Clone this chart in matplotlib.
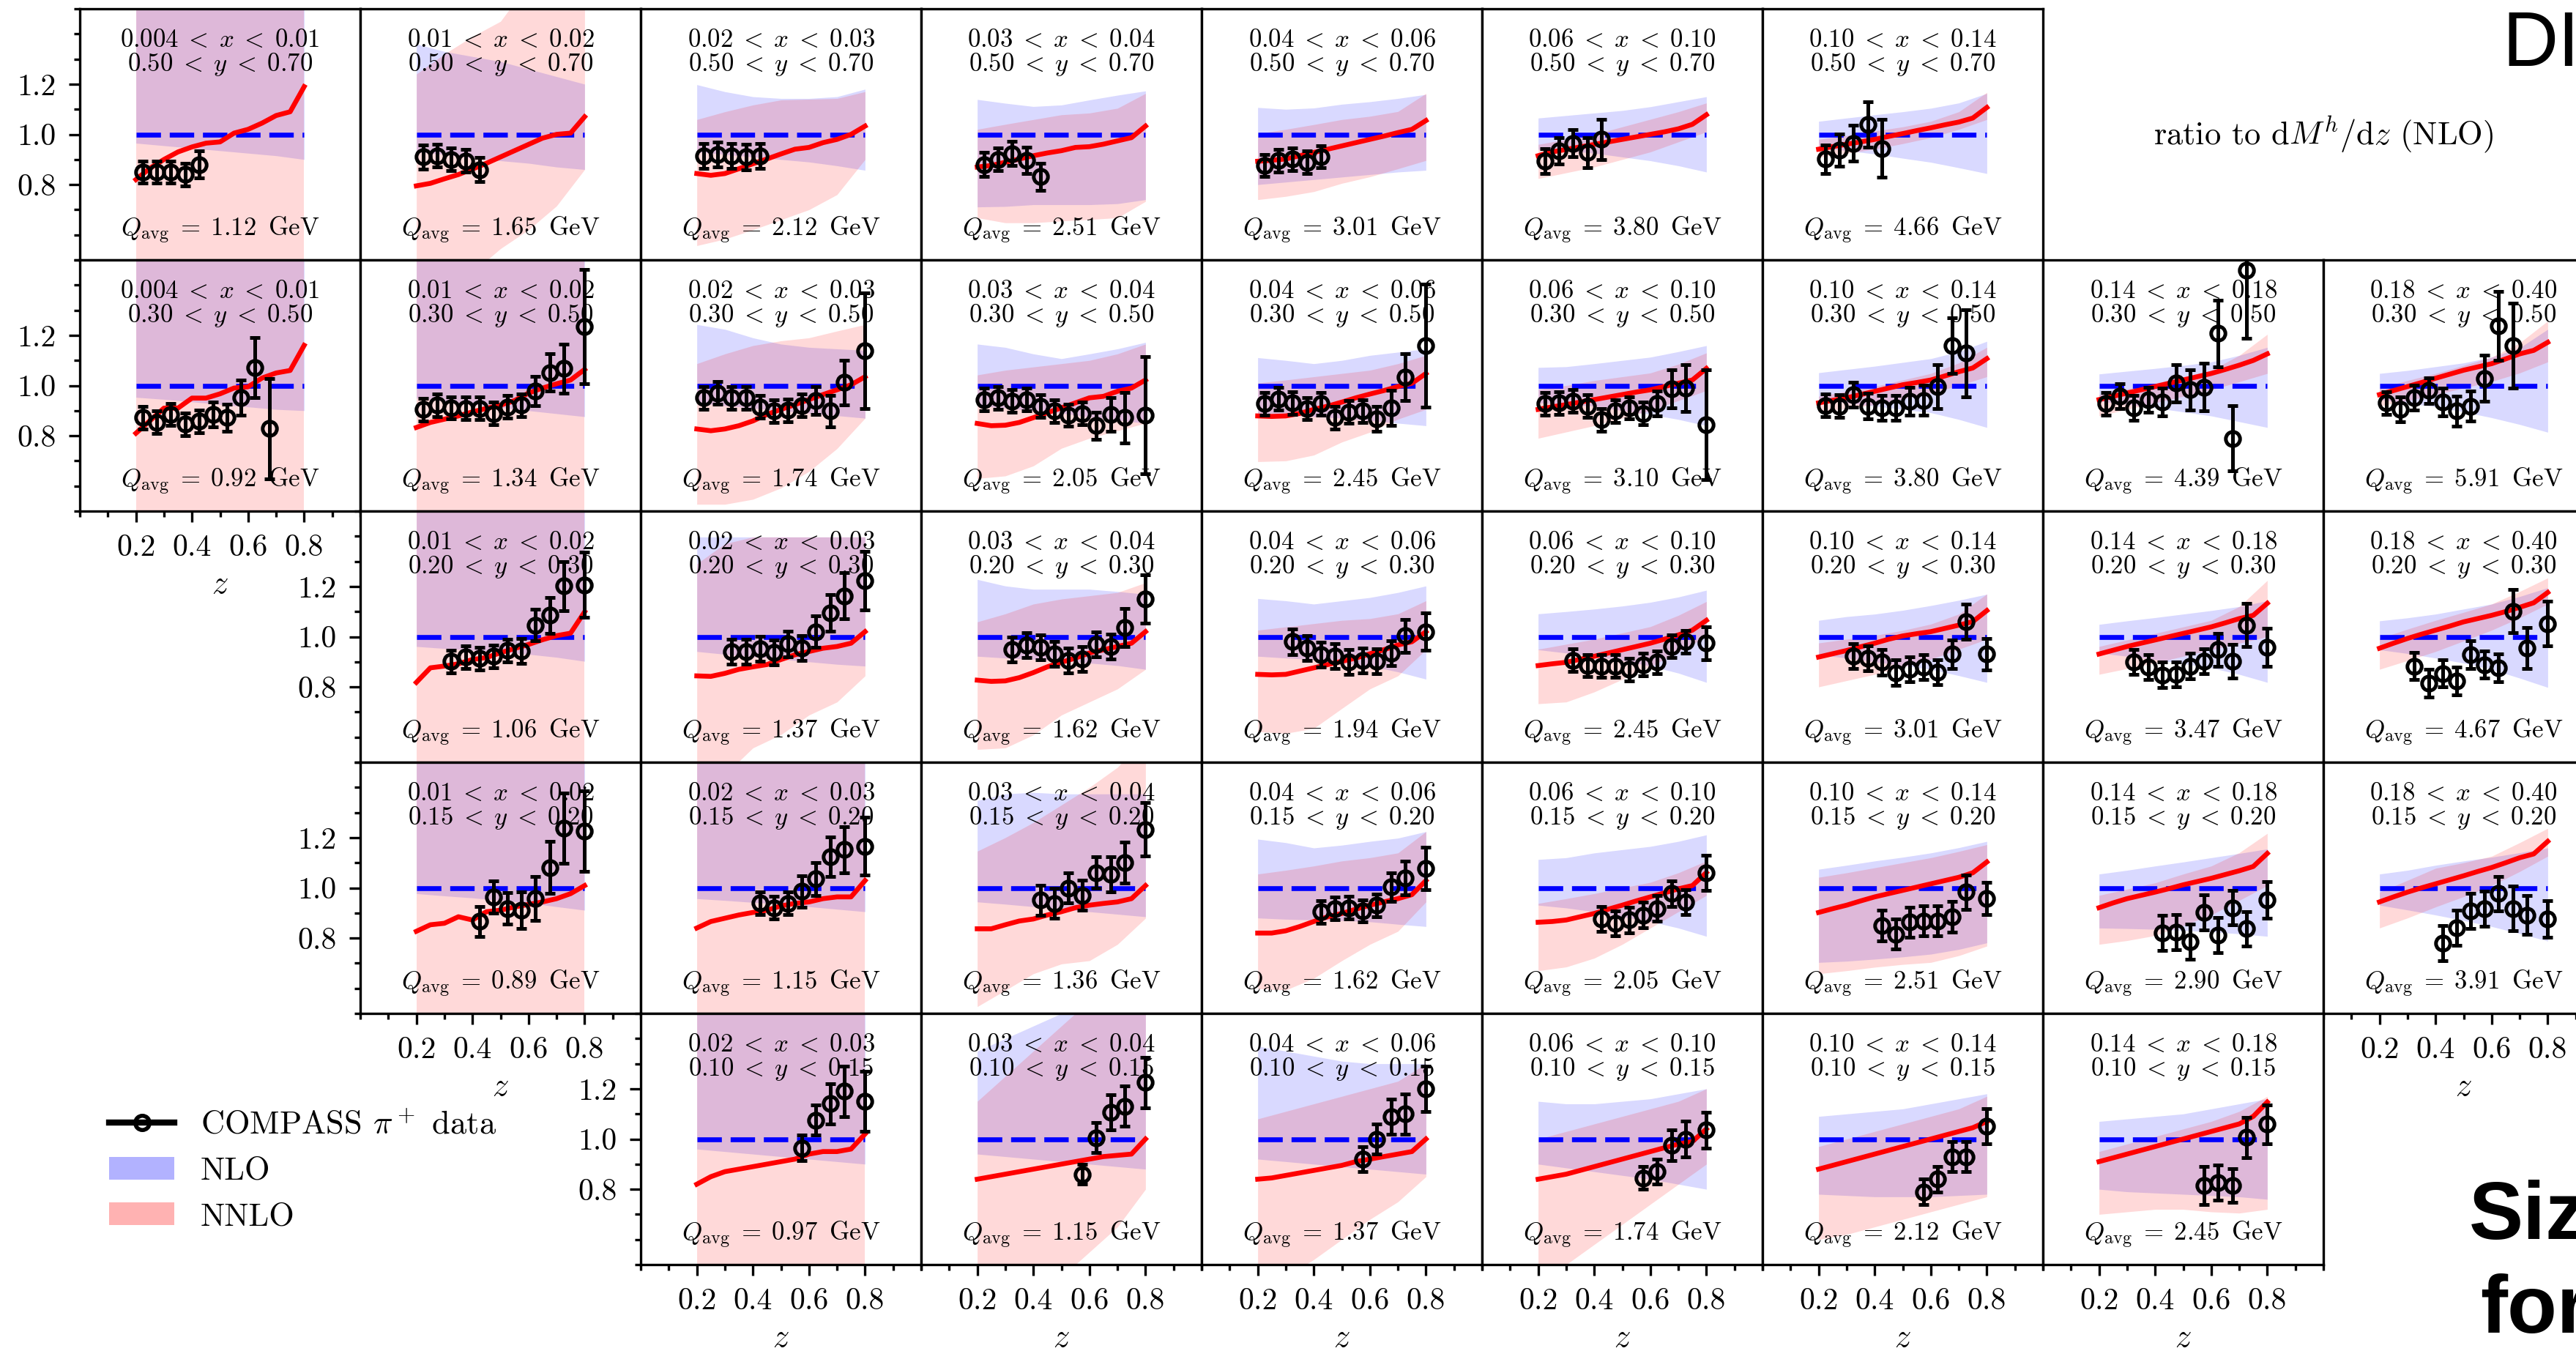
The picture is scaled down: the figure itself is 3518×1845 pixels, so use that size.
import matplotlib
matplotlib.use("Agg")
import matplotlib.pyplot as plt
from matplotlib.lines import Line2D
from matplotlib.patches import Patch
from matplotlib.ticker import MultipleLocator

plt.rcParams['font.family'] = 'serif'
plt.rcParams['font.serif'] = ['cmr10']
plt.rcParams['mathtext.fontset'] = 'cm'
plt.rcParams['axes.formatter.use_mathtext'] = True

# bin edges used in the panel labels
x_edges = ['0.004', '0.01', '0.02', '0.03', '0.04', '0.06', '0.10', '0.14', '0.18', '0.40']
y_edges = [('0.50', '0.70'), ('0.30', '0.50'), ('0.20', '0.30'), ('0.15', '0.20'), ('0.10', '0.15')]

# z grids
z_bins = [0.225, 0.275, 0.325, 0.375, 0.425, 0.475, 0.525, 0.575, 0.625, 0.675, 0.725, 0.80]
z_line = [0.2, 0.25, 0.3, 0.35, 0.4, 0.45, 0.5, 0.55, 0.6, 0.65, 0.7, 0.75, 0.8]
z_band = [0.2, 0.3, 0.4, 0.5, 0.6, 0.7, 0.8]
nlo_ratio = [1.0, 1.0, 1.0, 1.0, 1.0, 1.0, 1.0]

# panel positions (row, col)
panel_row = [0, 0, 0, 0, 0, 0, 0,
             1, 1, 1, 1, 1, 1, 1, 1, 1,
             2, 2, 2, 2, 2, 2, 2, 2,
             3, 3, 3, 3, 3, 3, 3, 3,
             4, 4, 4, 4, 4, 4]
panel_col = [0, 1, 2, 3, 4, 5, 6,
             0, 1, 2, 3, 4, 5, 6, 7, 8,
             1, 2, 3, 4, 5, 6, 7, 8,
             1, 2, 3, 4, 5, 6, 7, 8,
             2, 3, 4, 5, 6, 7]
q_avg = ['1.12', '1.65', '2.12', '2.51', '3.01', '3.80', '4.66',
         '0.92', '1.34', '1.74', '2.05', '2.45', '3.10', '3.80', '4.39', '5.91',
         '1.06', '1.37', '1.62', '1.94', '2.45', '3.01', '3.47', '4.67',
         '0.89', '1.15', '1.36', '1.62', '2.05', '2.51', '2.90', '3.91',
         '0.97', '1.15', '1.37', '1.74', '2.12', '2.45']
first_bin = [0] * 7 + [0] * 9 + [2] * 8 + [4] * 8 + [7] * 6

# COMPASS pi+ data, ratio to NLO
data_y = [
    [0.85, 0.85, 0.85, 0.84, 0.88],
    [0.91, 0.915, 0.90, 0.895, 0.86],
    [0.915, 0.92, 0.915, 0.91, 0.915],
    [0.88, 0.90, 0.924, 0.896, 0.831],
    [0.876, 0.896, 0.902, 0.889, 0.911],
    [0.893, 0.935, 0.965, 0.928, 0.98],
    [0.902, 0.938, 0.965, 1.039, 0.944],
    [0.872, 0.853, 0.885, 0.846, 0.858, 0.885, 0.872, 0.951, 1.072, 0.829],
    [0.905, 0.922, 0.911, 0.909, 0.909, 0.888, 0.915, 0.922, 0.979, 1.052, 1.068, 1.234],
    [0.951, 0.97, 0.951, 0.951, 0.915, 0.898, 0.902, 0.921, 0.941, 0.898, 1.012, 1.139],
    [0.944, 0.951, 0.938, 0.944, 0.918, 0.898, 0.882, 0.889, 0.84, 0.885, 0.872, 0.882],
    [0.928, 0.947, 0.931, 0.908, 0.928, 0.872, 0.895, 0.898, 0.868, 0.911, 1.033, 1.159],
    [0.928, 0.931, 0.938, 0.918, 0.863, 0.898, 0.911, 0.889, 0.928, 0.987, 0.99, 0.844],
    [0.921, 0.918, 0.964, 0.918, 0.911, 0.911, 0.938, 0.941, 0.996, 1.159, 1.129],
    [0.928, 0.957, 0.911, 0.944, 0.934, 1.009, 0.983, 0.993, 1.207, 0.79, 1.458],
    [0.931, 0.905, 0.951, 0.98, 0.934, 0.898, 0.918, 1.029, 1.237, 1.159],
    [0.902, 0.919, 0.913, 0.922, 0.945, 0.944, 1.046, 1.085, 1.202, 1.206],
    [0.941, 0.941, 0.952, 0.938, 0.971, 0.954, 1.02, 1.095, 1.163, 1.224],
    [0.948, 0.967, 0.958, 0.932, 0.906, 0.911, 0.97, 0.961, 1.036, 1.15],
    [0.98, 0.954, 0.928, 0.922, 0.90, 0.906, 0.902, 0.935, 1.003, 1.02],
    [0.906, 0.885, 0.883, 0.883, 0.87, 0.889, 0.898, 0.961, 0.98, 0.974],
    [0.922, 0.913, 0.898, 0.857, 0.87, 0.879, 0.859, 0.931, 1.059, 0.931],
    [0.90, 0.88, 0.848, 0.85, 0.883, 0.902, 0.948, 0.902, 1.046, 0.958],
    [0.883, 0.814, 0.854, 0.824, 0.928, 0.889, 0.876, 1.102, 0.955, 1.052],
    [0.866, 0.964, 0.918, 0.911, 0.957, 1.081, 1.237, 1.227],
    [0.94, 0.921, 0.938, 0.986, 1.035, 1.124, 1.152, 1.165],
    [0.951, 0.938, 0.999, 0.97, 1.061, 1.055, 1.10, 1.233],
    [0.905, 0.918, 0.921, 0.908, 0.931, 1.003, 1.038, 1.078],
    [0.876, 0.859, 0.872, 0.892, 0.918, 0.977, 0.944, 1.061],
    [0.85, 0.816, 0.863, 0.868, 0.868, 0.885, 0.983, 0.957],
    [0.82, 0.824, 0.785, 0.901, 0.811, 0.921, 0.837, 0.951],
    [0.781, 0.84, 0.908, 0.918, 0.977, 0.918, 0.892, 0.876],
    [0.965, 1.075, 1.14, 1.19, 1.15],
    [0.86, 1.005, 1.105, 1.13, 1.225],
    [0.92, 1.0, 1.09, 1.10, 1.2],
    [0.845, 0.87, 0.975, 1.0, 1.035],
    [0.79, 0.84, 0.93, 0.93, 1.05],
    [0.815, 0.826, 0.815, 1.007, 1.059],
]
data_err = [
    [0.045, 0.045, 0.045, 0.045, 0.053],
    [0.048, 0.045, 0.045, 0.045, 0.048],
    [0.05, 0.05, 0.05, 0.05, 0.05],
    [0.049, 0.045, 0.048, 0.052, 0.055],
    [0.045, 0.045, 0.045, 0.045, 0.045],
    [0.049, 0.052, 0.055, 0.06, 0.08],
    [0.057, 0.064, 0.07, 0.09, 0.116],
    [0.045, 0.045, 0.045, 0.045, 0.045, 0.05, 0.055, 0.07, 0.12, 0.2],
    [0.045, 0.045, 0.045, 0.045, 0.045, 0.045, 0.045, 0.045, 0.058, 0.075, 0.098, 0.227],
    [0.045, 0.045, 0.045, 0.045, 0.045, 0.045, 0.045, 0.045, 0.055, 0.062, 0.09, 0.23],
    [0.045, 0.045, 0.045, 0.045, 0.045, 0.045, 0.045, 0.045, 0.055, 0.068, 0.1, 0.232],
    [0.045, 0.045, 0.045, 0.045, 0.045, 0.045, 0.045, 0.045, 0.05, 0.07, 0.094, 0.245],
    [0.045, 0.045, 0.045, 0.045, 0.045, 0.045, 0.045, 0.045, 0.05, 0.075, 0.093, 0.22],
    [0.045, 0.045, 0.05, 0.05, 0.05, 0.05, 0.055, 0.06, 0.087, 0.112, 0.173],
    [0.045, 0.05, 0.05, 0.05, 0.055, 0.074, 0.08, 0.095, 0.133, 0.13, 0.27],
    [0.045, 0.05, 0.05, 0.05, 0.055, 0.06, 0.06, 0.093, 0.137, 0.17],
    [0.045, 0.045, 0.045, 0.045, 0.045, 0.05, 0.062, 0.072, 0.098, 0.13],
    [0.05, 0.05, 0.05, 0.05, 0.05, 0.05, 0.062, 0.072, 0.091, 0.117],
    [0.05, 0.05, 0.05, 0.05, 0.05, 0.05, 0.05, 0.05, 0.076, 0.095],
    [0.05, 0.05, 0.05, 0.05, 0.05, 0.05, 0.05, 0.05, 0.066, 0.074],
    [0.045, 0.045, 0.045, 0.045, 0.045, 0.045, 0.045, 0.045, 0.045, 0.065],
    [0.05, 0.05, 0.05, 0.05, 0.05, 0.05, 0.05, 0.057, 0.07, 0.063],
    [0.05, 0.05, 0.05, 0.05, 0.05, 0.05, 0.065, 0.066, 0.086, 0.076],
    [0.055, 0.055, 0.055, 0.055, 0.055, 0.055, 0.055, 0.085, 0.082, 0.088],
    [0.06, 0.064, 0.062, 0.072, 0.088, 0.104, 0.14, 0.16],
    [0.045, 0.045, 0.045, 0.062, 0.066, 0.08, 0.091, 0.115],
    [0.06, 0.06, 0.06, 0.06, 0.062, 0.07, 0.081, 0.107],
    [0.045, 0.045, 0.045, 0.045, 0.045, 0.056, 0.067, 0.085],
    [0.05, 0.05, 0.05, 0.05, 0.05, 0.05, 0.05, 0.07],
    [0.06, 0.06, 0.06, 0.06, 0.06, 0.06, 0.068, 0.064],
    [0.07, 0.07, 0.07, 0.07, 0.07, 0.068, 0.068, 0.073],
    [0.07, 0.07, 0.07, 0.07, 0.069, 0.088, 0.078, 0.072],
    [0.05, 0.06, 0.08, 0.10, 0.12],
    [0.04, 0.06, 0.07, 0.08, 0.10],
    [0.05, 0.06, 0.07, 0.08, 0.09],
    [0.045, 0.05, 0.06, 0.07, 0.07],
    [0.05, 0.05, 0.06, 0.06, 0.07],
    [0.075, 0.07, 0.068, 0.08, 0.078],
]

# NNLO central value (red line), ratio to NLO
nnlo_mid = [
    [0.82, 0.865, 0.90, 0.93, 0.95, 0.965, 0.97, 1.005, 1.02, 1.045, 1.075, 1.09, 1.19],
    [0.795, 0.805, 0.823, 0.84, 0.862, 0.885, 0.91, 0.935, 0.96, 0.985, 1.0, 1.005, 1.07],
    [0.844, 0.837, 0.844, 0.863, 0.883, 0.902, 0.922, 0.941, 0.948, 0.967, 0.98, 1.0, 1.033],
    [0.87, 0.876, 0.889, 0.902, 0.915, 0.926, 0.935, 0.948, 0.951, 0.961, 0.974, 0.987, 1.033],
    [0.893, 0.897, 0.902, 0.915, 0.928, 0.941, 0.954, 0.967, 0.98, 0.993, 1.007, 1.02, 1.055],
    [0.915, 0.93, 0.94, 0.95, 0.96, 0.97, 0.98, 0.99, 1.0, 1.01, 1.022, 1.04, 1.078],
    [0.941, 0.951, 0.961, 0.97, 0.98, 0.992, 1.003, 1.015, 1.026, 1.038, 1.049, 1.065, 1.107],
    [0.81, 0.86, 0.91, 0.91, 0.95, 0.95, 0.967, 0.99, 0.995, 1.03, 1.05, 1.06, 1.16],
    [0.833, 0.853, 0.866, 0.879, 0.895, 0.909, 0.922, 0.94, 0.97, 0.99, 1.007, 1.022, 1.064],
    [0.827, 0.82, 0.827, 0.84, 0.859, 0.885, 0.905, 0.924, 0.944, 0.964, 0.983, 1.003, 1.035],
    [0.849, 0.84, 0.842, 0.853, 0.872, 0.892, 0.911, 0.931, 0.951, 0.957, 0.977, 0.99, 1.022],
    [0.879, 0.877, 0.879, 0.889, 0.905, 0.918, 0.934, 0.951, 0.966, 0.98, 0.996, 1.009, 1.048],
    [0.905, 0.915, 0.924, 0.934, 0.944, 0.954, 0.964, 0.974, 0.983, 0.996, 1.009, 1.022, 1.068],
    [0.931, 0.941, 0.951, 0.964, 0.977, 0.99, 1.003, 1.012, 1.022, 1.038, 1.055, 1.07, 1.107],
    [0.944, 0.957, 0.97, 0.983, 0.996, 1.009, 1.022, 1.035, 1.048, 1.064, 1.081, 1.1, 1.126],
    [0.964, 0.98, 0.996, 1.012, 1.029, 1.045, 1.061, 1.074, 1.087, 1.106, 1.126, 1.14, 1.172],
    [0.818, 0.876, 0.883, 0.892, 0.909, 0.917, 0.936, 0.953, 0.969, 0.988, 1.004, 1.014, 1.099],
    [0.844, 0.842, 0.854, 0.87, 0.88, 0.889, 0.909, 0.928, 0.941, 0.954, 0.961, 0.974, 1.02],
    [0.827, 0.822, 0.824, 0.837, 0.857, 0.88, 0.898, 0.915, 0.935, 0.948, 0.961, 0.974, 1.02],
    [0.85, 0.848, 0.85, 0.863, 0.876, 0.889, 0.902, 0.915, 0.932, 0.948, 0.967, 0.98, 1.02],
    [0.885, 0.892, 0.898, 0.91, 0.922, 0.935, 0.948, 0.961, 0.974, 0.99, 1.007, 1.026, 1.065],
    [0.919, 0.932, 0.945, 0.96, 0.974, 0.99, 1.003, 1.012, 1.02, 1.033, 1.046, 1.06, 1.104],
    [0.931, 0.946, 0.961, 0.974, 0.987, 1.0, 1.013, 1.026, 1.039, 1.055, 1.072, 1.085, 1.133],
    [0.954, 0.974, 0.993, 1.01, 1.026, 1.042, 1.059, 1.072, 1.085, 1.10, 1.117, 1.135, 1.176],
    [0.827, 0.853, 0.859, 0.885, 0.872, 0.905, 0.911, 0.924, 0.934, 0.944, 0.957, 0.977, 1.009],
    [0.84, 0.866, 0.879, 0.892, 0.902, 0.911, 0.928, 0.938, 0.944, 0.957, 0.964, 0.964, 1.029],
    [0.837, 0.837, 0.853, 0.868, 0.876, 0.892, 0.905, 0.921, 0.931, 0.938, 0.944, 0.957, 1.009],
    [0.82, 0.82, 0.829, 0.846, 0.866, 0.885, 0.898, 0.915, 0.931, 0.944, 0.957, 0.973, 1.029],
    [0.863, 0.866, 0.872, 0.885, 0.898, 0.915, 0.931, 0.948, 0.964, 0.98, 0.996, 1.009, 1.061],
    [0.902, 0.917, 0.931, 0.948, 0.964, 0.977, 0.99, 1.003, 1.016, 1.029, 1.042, 1.06, 1.103],
    [0.921, 0.94, 0.957, 0.97, 0.983, 0.997, 1.012, 1.025, 1.038, 1.053, 1.068, 1.085, 1.137],
    [0.944, 0.964, 0.983, 1.0, 1.016, 1.032, 1.048, 1.065, 1.081, 1.10, 1.12, 1.135, 1.185],
    [0.82, 0.85, 0.87, 0.88, 0.89, 0.90, 0.91, 0.92, 0.94, 0.95, 0.95, 0.96, 1.02],
    [0.84, 0.85, 0.86, 0.87, 0.88, 0.89, 0.90, 0.91, 0.92, 0.93, 0.935, 0.94, 1.0],
    [0.84, 0.845, 0.855, 0.865, 0.875, 0.885, 0.895, 0.91, 0.92, 0.93, 0.94, 0.95, 1.0],
    [0.84, 0.85, 0.86, 0.875, 0.89, 0.905, 0.92, 0.935, 0.95, 0.965, 0.98, 0.99, 1.04],
    [0.88, 0.895, 0.91, 0.925, 0.94, 0.955, 0.97, 0.985, 1.0, 1.015, 1.03, 1.045, 1.07],
    [0.91, 0.925, 0.94, 0.955, 0.97, 0.985, 1.0, 1.015, 1.03, 1.045, 1.06, 1.09, 1.147],
]

# uncertainty bands
nlo_lo = [
    [0.965, 0.955, 0.945, 0.935, 0.925, 0.915, 0.90],
    [0.93, 0.92, 0.905, 0.895, 0.885, 0.87, 0.86],
    [0.93, 0.92, 0.91, 0.90, 0.89, 0.875, 0.857],
    [0.711, 0.713, 0.72, 0.72, 0.72, 0.724, 0.74],
    [0.80, 0.81, 0.82, 0.83, 0.84, 0.85, 0.857],
    [0.94, 0.935, 0.925, 0.91, 0.895, 0.875, 0.85],
    [0.948, 0.935, 0.922, 0.905, 0.889, 0.867, 0.844],
    [0.953, 0.945, 0.935, 0.925, 0.915, 0.905, 0.90],
    [0.95, 0.938, 0.925, 0.913, 0.90, 0.888, 0.876],
    [0.93, 0.92, 0.91, 0.90, 0.89, 0.88, 0.87],
    [0.92, 0.91, 0.90, 0.89, 0.875, 0.862, 0.85],
    [0.89, 0.883, 0.876, 0.87, 0.86, 0.85, 0.84],
    [0.931, 0.925, 0.918, 0.90, 0.885, 0.865, 0.84],
    [0.944, 0.931, 0.918, 0.905, 0.892, 0.865, 0.833],
    [0.938, 0.925, 0.911, 0.895, 0.879, 0.856, 0.833],
    [0.944, 0.93, 0.915, 0.895, 0.872, 0.845, 0.814],
    [0.961, 0.953, 0.946, 0.939, 0.93, 0.918, 0.902],
    [0.941, 0.93, 0.92, 0.91, 0.90, 0.89, 0.883],
    [0.922, 0.915, 0.91, 0.905, 0.895, 0.885, 0.87],
    [0.922, 0.915, 0.909, 0.895, 0.883, 0.86, 0.831],
    [0.948, 0.935, 0.922, 0.905, 0.883, 0.855, 0.818],
    [0.928, 0.915, 0.90, 0.885, 0.87, 0.845, 0.818],
    [0.935, 0.922, 0.909, 0.892, 0.876, 0.85, 0.818],
    [0.948, 0.933, 0.915, 0.895, 0.87, 0.835, 0.798],
    [0.977, 0.968, 0.96, 0.95, 0.94, 0.925, 0.911],
    [0.957, 0.95, 0.942, 0.935, 0.925, 0.915, 0.905],
    [0.944, 0.935, 0.925, 0.915, 0.905, 0.895, 0.885],
    [0.88, 0.875, 0.872, 0.87, 0.865, 0.855, 0.846],
    [0.931, 0.92, 0.905, 0.885, 0.866, 0.84, 0.807],
    [0.703, 0.708, 0.716, 0.725, 0.736, 0.755, 0.781],
    [0.84, 0.838, 0.835, 0.83, 0.825, 0.817, 0.807],
    [0.931, 0.912, 0.892, 0.87, 0.846, 0.818, 0.788],
    [0.96, 0.95, 0.94, 0.93, 0.92, 0.91, 0.90],
    [0.94, 0.93, 0.92, 0.91, 0.90, 0.89, 0.88],
    [0.92, 0.91, 0.90, 0.89, 0.88, 0.87, 0.86],
    [0.90, 0.885, 0.87, 0.855, 0.84, 0.82, 0.80],
    [0.78, 0.775, 0.77, 0.77, 0.77, 0.775, 0.78],
    [0.80, 0.79, 0.785, 0.78, 0.775, 0.77, 0.76],
]
nlo_hi = [
    [1.6, 1.6, 1.6, 1.6, 1.6, 1.6, 1.6],
    [1.36, 1.33, 1.31, 1.29, 1.26, 1.23, 1.20],
    [1.198, 1.17, 1.15, 1.143, 1.143, 1.15, 1.18],
    [1.139, 1.124, 1.111, 1.117, 1.137, 1.156, 1.173],
    [1.107, 1.10, 1.105, 1.12, 1.13, 1.143, 1.159],
    [1.065, 1.075, 1.085, 1.095, 1.11, 1.13, 1.15],
    [1.052, 1.065, 1.078, 1.09, 1.104, 1.125, 1.163],
    [1.6, 1.6, 1.6, 1.6, 1.6, 1.6, 1.6],
    [1.6, 1.6, 1.6, 1.6, 1.6, 1.6, 1.6],
    [1.243, 1.224, 1.19, 1.165, 1.152, 1.146, 1.14],
    [1.165, 1.152, 1.126, 1.107, 1.126, 1.146, 1.172],
    [1.111, 1.10, 1.087, 1.10, 1.12, 1.133, 1.146],
    [1.072, 1.075, 1.087, 1.10, 1.113, 1.135, 1.159],
    [1.051, 1.064, 1.077, 1.092, 1.107, 1.135, 1.176],
    [1.046, 1.057, 1.068, 1.08, 1.094, 1.12, 1.152],
    [1.048, 1.06, 1.075, 1.09, 1.113, 1.15, 1.224],
    [1.6, 1.6, 1.6, 1.6, 1.6, 1.6, 1.6],
    [1.397, 1.397, 1.397, 1.397, 1.397, 1.397, 1.397],
    [1.228, 1.202, 1.189, 1.189, 1.189, 1.18, 1.169],
    [1.152, 1.143, 1.13, 1.143, 1.156, 1.176, 1.202],
    [1.091, 1.10, 1.11, 1.122, 1.137, 1.158, 1.185],
    [1.065, 1.08, 1.09, 1.105, 1.124, 1.145, 1.169],
    [1.049, 1.063, 1.076, 1.09, 1.104, 1.12, 1.143],
    [1.063, 1.075, 1.09, 1.11, 1.13, 1.16, 1.195],
    [1.6, 1.6, 1.6, 1.6, 1.6, 1.6, 1.6],
    [1.6, 1.6, 1.6, 1.6, 1.6, 1.6, 1.6],
    [1.348, 1.374, 1.38, 1.374, 1.374, 1.374, 1.374],
    [1.194, 1.18, 1.159, 1.17, 1.185, 1.198, 1.224],
    [1.113, 1.12, 1.139, 1.152, 1.165, 1.185, 1.211],
    [1.074, 1.09, 1.107, 1.122, 1.139, 1.16, 1.185],
    [1.055, 1.07, 1.087, 1.103, 1.12, 1.137, 1.155],
    [1.055, 1.07, 1.09, 1.107, 1.122, 1.14, 1.159],
    [1.6, 1.6, 1.6, 1.6, 1.6, 1.6, 1.6],
    [1.35, 1.40, 1.45, 1.50, 1.50, 1.50, 1.50],
    [1.37, 1.35, 1.33, 1.31, 1.30, 1.30, 1.30],
    [1.15, 1.14, 1.14, 1.15, 1.16, 1.18, 1.20],
    [1.09, 1.10, 1.11, 1.12, 1.14, 1.16, 1.18],
    [1.07, 1.08, 1.09, 1.10, 1.12, 1.14, 1.16],
]
nnlo_lo = [
    [0.4, 0.4, 0.4, 0.4, 0.4, 0.4, 0.4],
    [0.4, 0.4, 0.45, 0.545, 0.62, 0.715, 0.86],
    [0.557, 0.583, 0.62, 0.66, 0.70, 0.76, 0.90],
    [0.668, 0.648, 0.648, 0.655, 0.661, 0.668, 0.733],
    [0.74, 0.753, 0.772, 0.805, 0.831, 0.863, 0.896],
    [0.824, 0.847, 0.87, 0.90, 0.93, 0.97, 1.01],
    [0.909, 0.925, 0.941, 0.963, 0.987, 1.02, 1.059],
    [0.4, 0.4, 0.4, 0.4, 0.4, 0.4, 0.4],
    [0.4, 0.4, 0.4, 0.4, 0.4, 0.4, 0.4],
    [0.527, 0.527, 0.547, 0.592, 0.658, 0.749, 0.87],
    [0.63, 0.64, 0.68, 0.75, 0.79, 0.82, 0.85],
    [0.697, 0.70, 0.723, 0.775, 0.814, 0.866, 0.905],
    [0.79, 0.815, 0.84, 0.87, 0.90, 0.94, 0.98],
    [0.892, 0.908, 0.924, 0.947, 0.97, 1.0, 1.035],
    [0.879, 0.905, 0.931, 0.957, 0.983, 1.015, 1.048],
    [0.918, 0.94, 0.964, 0.99, 1.016, 1.05, 1.094],
    [0.4, 0.4, 0.4, 0.4, 0.4, 0.4, 0.4],
    [0.4, 0.45, 0.557, 0.61, 0.688, 0.74, 0.844],
    [0.551, 0.557, 0.609, 0.688, 0.74, 0.792, 0.87],
    [0.622, 0.615, 0.635, 0.714, 0.792, 0.844, 0.948],
    [0.733, 0.74, 0.78, 0.83, 0.88, 0.94, 1.0],
    [0.80, 0.825, 0.85, 0.88, 0.91, 0.95, 0.99],
    [0.85, 0.873, 0.896, 0.922, 0.948, 0.974, 1.0],
    [0.87, 0.905, 0.941, 0.983, 1.026, 1.075, 1.13],
    [0.4, 0.4, 0.4, 0.4, 0.4, 0.4, 0.4],
    [0.4, 0.4, 0.4, 0.4, 0.4, 0.4, 0.4],
    [0.527, 0.592, 0.658, 0.697, 0.71, 0.775, 0.879],
    [0.599, 0.593, 0.64, 0.71, 0.775, 0.827, 0.944],
    [0.67, 0.685, 0.72, 0.775, 0.84, 0.905, 0.97],
    [0.658, 0.67, 0.684, 0.695, 0.703, 0.73, 0.768],
    [0.775, 0.79, 0.81, 0.85, 0.892, 0.95, 1.009],
    [0.84, 0.88, 0.924, 0.965, 1.009, 1.065, 1.126],
    [0.4, 0.4, 0.4, 0.4, 0.4, 0.4, 0.4],
    [0.4, 0.4, 0.4, 0.45, 0.55, 0.65, 0.80],
    [0.4, 0.45, 0.52, 0.6, 0.68, 0.75, 0.85],
    [0.45, 0.5, 0.58, 0.66, 0.74, 0.82, 0.90],
    [0.60, 0.62, 0.65, 0.68, 0.71, 0.74, 0.77],
    [0.70, 0.71, 0.72, 0.72, 0.71, 0.705, 0.72],
]
nnlo_hi = [
    [1.6, 1.6, 1.6, 1.6, 1.6, 1.6, 1.6],
    [1.24, 1.32, 1.39, 1.45, 1.6, 1.6, 1.6],
    [1.059, 1.09, 1.117, 1.137, 1.14, 1.143, 1.17],
    [1.02, 1.04, 1.059, 1.078, 1.085, 1.104, 1.163],
    [1.003, 1.02, 1.039, 1.059, 1.072, 1.091, 1.163],
    [0.96, 0.98, 1.0, 1.03, 1.06, 1.09, 1.125],
    [0.98, 0.995, 1.013, 1.03, 1.052, 1.09, 1.167],
    [1.6, 1.6, 1.6, 1.6, 1.6, 1.6, 1.6],
    [1.6, 1.6, 1.6, 1.6, 1.6, 1.6, 1.6],
    [1.087, 1.126, 1.159, 1.178, 1.19, 1.217, 1.243],
    [1.042, 1.061, 1.074, 1.087, 1.10, 1.126, 1.165],
    [1.01, 1.022, 1.035, 1.048, 1.061, 1.087, 1.12],
    [0.985, 1.0, 1.02, 1.035, 1.05, 1.085, 1.13],
    [0.957, 0.977, 0.996, 1.022, 1.048, 1.09, 1.152],
    [0.964, 0.986, 1.009, 1.035, 1.061, 1.12, 1.204],
    [0.99, 1.02, 1.048, 1.08, 1.113, 1.17, 1.257],
    [1.6, 1.6, 1.6, 1.6, 1.6, 1.6, 1.6],
    [1.29, 1.37, 1.397, 1.397, 1.397, 1.397, 1.397],
    [1.059, 1.091, 1.13, 1.15, 1.163, 1.176, 1.215],
    [1.026, 1.039, 1.052, 1.065, 1.072, 1.091, 1.143],
    [0.95, 0.97, 0.99, 1.015, 1.04, 1.085, 1.14],
    [0.975, 0.99, 1.005, 1.025, 1.05, 1.09, 1.17],
    [0.961, 0.987, 1.013, 1.039, 1.065, 1.12, 1.224],
    [0.993, 1.03, 1.065, 1.097, 1.13, 1.18, 1.234],
    [1.6, 1.6, 1.6, 1.6, 1.6, 1.6, 1.6],
    [1.6, 1.6, 1.6, 1.6, 1.6, 1.6, 1.6],
    [1.146, 1.20, 1.26, 1.33, 1.40, 1.48, 1.6],
    [1.055, 1.07, 1.087, 1.107, 1.12, 1.139, 1.224],
    [0.938, 0.957, 0.977, 1.0, 1.022, 1.06, 1.107],
    [1.042, 1.06, 1.08, 1.10, 1.12, 1.145, 1.172],
    [0.97, 0.995, 1.02, 1.055, 1.087, 1.14, 1.217],
    [0.983, 1.03, 1.078, 1.10, 1.126, 1.18, 1.237],
    [1.6, 1.6, 1.6, 1.6, 1.6, 1.6, 1.6],
    [1.15, 1.25, 1.35, 1.45, 1.55, 1.6, 1.6],
    [1.08, 1.11, 1.14, 1.17, 1.2, 1.23, 1.3],
    [1.0, 1.03, 1.06, 1.09, 1.12, 1.15, 1.2],
    [0.97, 1.0, 1.03, 1.06, 1.09, 1.12, 1.17],
    [0.95, 0.98, 1.01, 1.04, 1.07, 1.11, 1.17],
]

W, H = 3518, 1845
fig = plt.figure(figsize=(W / 200, H / 200), dpi=200)
left0, top0, pw, ph = 109, 12, 383, 343

occupied = set(zip(panel_row, panel_col))

for i in range(len(panel_row)):
    r, c = panel_row[i], panel_col[i]
    ax = fig.add_axes([(left0 + c * pw) / W, 1 - (top0 + (r + 1) * ph) / H, pw / W, ph / H])

    ax.fill_between(z_band, nlo_lo[i], nlo_hi[i], color='blue', alpha=0.15, lw=0)
    ax.fill_between(z_band, nnlo_lo[i], nnlo_hi[i], color='red', alpha=0.15, lw=0)
    ax.plot(z_band, nlo_ratio, color='blue', lw=2.4, ls=(0, (5, 1.8)))
    ax.plot(z_line, nnlo_mid[i], color='red', lw=2.4)
    n = len(data_y[i])
    zz = z_bins[first_bin[i]:first_bin[i] + n]
    ax.errorbar(zz, data_y[i], yerr=data_err[i], fmt='o', color='k', mfc='none',
                ms=7, mew=1.8, elinewidth=1.8, capsize=2.4, capthick=1.8)

    ax.set_xlim(0, 1)
    ax.set_ylim(0.5, 1.5)
    for s in ax.spines.values():
        s.set_linewidth(1.2)

    ylo, yhi = y_edges[r]
    ax.text(0.5, 0.875, rf'${x_edges[c]}\;<\;x\;<\;{x_edges[c + 1]}$', transform=ax.transAxes,
            ha='center', va='center', fontsize=12.5)
    ax.text(0.5, 0.778, rf'${ylo}\;<\;y\;<\;{yhi}$', transform=ax.transAxes,
            ha='center', va='center', fontsize=12.5)
    ax.text(0.5, 0.117, r'$Q_{\mathrm{avg}}\;=\;' + q_avg[i] + r'\;\;\mathrm{GeV}$', transform=ax.transAxes,
            ha='center', va='center', fontsize=12.5)

    ax.tick_params(which='both', direction='out', width=1.2, top=False, right=False)
    ax.tick_params(which='major', length=5.5, labelsize=15, pad=6)
    ax.tick_params(which='minor', length=3)

    if (r + 1, c) in occupied:
        ax.tick_params(axis='x', which='both', bottom=False, labelbottom=False)
    else:
        ax.set_xticks([0.2, 0.4, 0.6, 0.8])
        ax.set_xticklabels(['0.2', '0.4', '0.6', '0.8'])
        ax.xaxis.set_minor_locator(MultipleLocator(0.1))
        ax.set_xlabel('$z$', fontsize=16, labelpad=4)

    if (r, c - 1) in occupied:
        ax.tick_params(axis='y', which='both', left=False, labelleft=False)
    else:
        ax.set_yticks([0.8, 1.0, 1.2])
        ax.set_yticklabels(['0.8', '1.0', '1.2'])
        ax.yaxis.set_minor_locator(MultipleLocator(0.1))

fig.text((left0 + 8 * pw) / W, 1 - (top0 + ph / 2) / H, r'ratio to $\mathrm{d}M^h/\mathrm{d}z$ (NLO)',
         ha='center', va='center', fontsize=16)

handles = [Line2D([0], [0], color='k', lw=3, marker='o', mfc='none', mew=2, ms=7),
           Patch(color='blue', alpha=0.3, lw=0),
           Patch(color='red', alpha=0.3, lw=0)]
fig.legend(handles, [r'COMPASS $\pi^+$ data', 'NLO', 'NNLO'], loc='center left',
           bbox_to_anchor=(0.031, 0.133), frameon=False, fontsize=16)

# slide text around the figure
fig.text(3417 / W, 1 - 90 / H, 'DIS', fontsize=38, family='Liberation Sans', ha='left', va='baseline')
fig.text(3372 / W, 1 - 1692 / H, 'Size', fontsize=40, family='Liberation Sans', weight='bold',
         ha='left', va='baseline')
fig.text(3387 / W, 1 - 1820 / H, 'for', fontsize=40, family='Liberation Sans', weight='bold',
         ha='left', va='baseline')

fig.savefig('out.png', dpi=200)
